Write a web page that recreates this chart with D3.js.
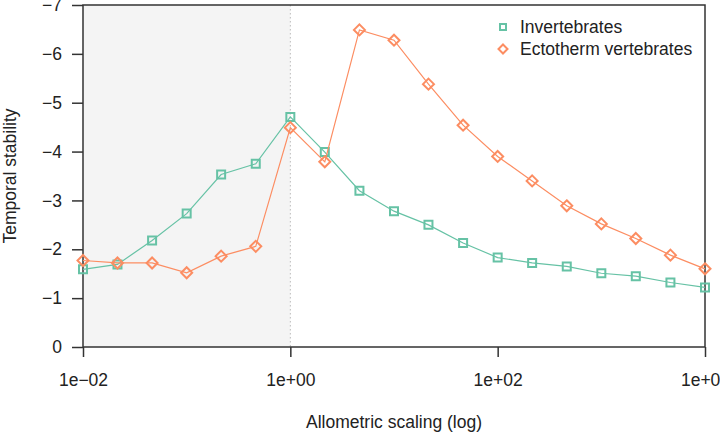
<!DOCTYPE html>
<html>
<head>
<meta charset="utf-8">
<script src="https://cdn.jsdelivr.net/npm/d3@7"></script>
<style>
  body { margin: 0; background: #fff; }
  svg text { font-family: "Liberation Sans", Arial, sans-serif; fill: #222; }
</style>
</head>
<body>
<div id="wrapper"></div>
<script>
const scaling = [0.01, 0.0215, 0.0464, 0.1, 0.215, 0.464, 1, 2.15, 4.64, 10,
  21.5, 46.4, 100, 215, 464, 1000, 2150, 4640, 10000]

const invertebrates = [-1.59, -1.69, -2.18, -2.73, -3.53, -3.75, -4.71, -3.99, -3.20, -2.78,
  -2.50, -2.13, -1.83, -1.72, -1.65, -1.51, -1.45, -1.32, -1.22]

const ectotherms = [-1.77, -1.72, -1.72, -1.52, -1.86, -2.06, -4.49, -3.79, -6.49, -6.28,
  -5.38, -4.54, -3.90, -3.40, -2.89, -2.52, -2.22, -1.88, -1.60]

const xTicks = [0.01, 1, 100, 10000]
const xTickLabels = ["1e\u221202", "1e+00", "1e+02", "1e+04"]
const yTicks = [0, -1, -2, -3, -4, -5, -6, -7]

const series = [
  {name: "Invertebrates", values: invertebrates, color: "#66c2a5", shape: "square"},
  {name: "Ectotherm vertebrates", values: ectotherms, color: "#fc8d62", shape: "diamond"}
]

const fontSize = 17.5

const dimensions = {
  width: 720,
  height: 432,
  margin: {top: 5, right: 15, bottom: 85, left: 83}
}
dimensions.boundedWidth = dimensions.width - dimensions.margin.left - dimensions.margin.right
dimensions.boundedHeight = dimensions.height - dimensions.margin.top - dimensions.margin.bottom

const wrapper = d3.select("#wrapper")
  .append("svg")
    .attr("width", dimensions.width)
    .attr("height", dimensions.height)

const bounds = wrapper.append("g")
  .attr("transform", `translate(${dimensions.margin.left}, ${dimensions.margin.top})`)

const xScale = d3.scaleLog()
  .domain([0.01, 10000])
  .range([0, dimensions.boundedWidth])

const yScale = d3.scaleLinear()
  .domain([0, -7])
  .range([dimensions.boundedHeight, 0])

// shaded region below 1e+00
bounds.append("rect")
  .attr("x", xScale(0.01))
  .attr("y", 0)
  .attr("width", xScale(1) - xScale(0.01))
  .attr("height", dimensions.boundedHeight)
  .attr("fill", "#f4f4f4")

bounds.append("line")
  .attr("x1", xScale(1)).attr("x2", xScale(1))
  .attr("y1", 0).attr("y2", dimensions.boundedHeight)
  .attr("stroke", "#bbb")
  .attr("stroke-width", 1)
  .attr("stroke-dasharray", "1.5,2.5")

// axes
const xAxisGenerator = d3.axisBottom(xScale)
  .tickValues(xTicks)
  .tickFormat((d, i) => xTickLabels[i])
  .tickSize(10)
  .tickPadding(17)

const xAxis = bounds.append("g")
  .attr("transform", `translate(0, ${dimensions.boundedHeight})`)
  .call(xAxisGenerator)

const yAxisGenerator = d3.axisLeft(yScale)
  .tickValues(yTicks)
  .tickFormat(d => d3.format("d")(d).replace("-", "\u2212"))
  .tickSize(11)
  .tickPadding(10)

const yAxis = bounds.append("g")
  .call(yAxisGenerator)

;[xAxis, yAxis].forEach(axis => {
  axis.select(".domain").remove()
  axis.selectAll(".tick line").attr("stroke", "#333").attr("stroke-width", 1.5)
  axis.selectAll(".tick text")
    .attr("font-size", fontSize)
    .attr("fill", "#222")
    .style("font-family", "'Liberation Sans', Arial, sans-serif")
})

// box
bounds.append("rect")
  .attr("width", dimensions.boundedWidth)
  .attr("height", dimensions.boundedHeight)
  .attr("fill", "none")
  .attr("stroke", "#333")
  .attr("stroke-width", 1.5)

// axis titles
bounds.append("text")
  .attr("x", dimensions.boundedWidth / 2)
  .attr("y", dimensions.boundedHeight + 81)
  .attr("text-anchor", "middle")
  .attr("font-size", fontSize)
  .text("Allometric scaling (log)")

bounds.append("text")
  .attr("transform", `translate(${-67}, ${dimensions.boundedHeight / 2}) rotate(-90)`)
  .attr("text-anchor", "middle")
  .attr("font-size", fontSize)
  .text("Temporal stability")

// lines and markers
const lineGenerator = d3.line()
  .x((d, i) => xScale(scaling[i]))
  .y(d => yScale(d))

function markerPath(shape, size) {
  if (shape === "diamond") {
    return `M0,${-size}L${size},0L0,${size}L${-size},0Z`
  }
  return `M${-size},${-size}H${size}V${size}H${-size}Z`
}

series.forEach(s => {
  const g = bounds.append("g")

  g.append("path")
    .attr("d", lineGenerator(s.values))
    .attr("fill", "none")
    .attr("stroke", s.color)
    .attr("stroke-width", 1.2)

  g.selectAll("path.marker")
    .data(s.values)
    .enter().append("path")
      .attr("class", "marker")
      .attr("transform", (d, i) => `translate(${xScale(scaling[i])}, ${yScale(d)})`)
      .attr("d", s.shape === "diamond" ? markerPath("diamond", 5.5) : markerPath("square", 4))
      .attr("fill", "none")
      .attr("stroke", s.color)
      .attr("stroke-width", 2)
})

// legend
const legend = bounds.append("g")
  .attr("transform", `translate(${420}, ${22})`)

series.forEach((s, i) => {
  const row = legend.append("g")
    .attr("transform", `translate(0, ${i * 22})`)
  row.append("path")
    .attr("d", s.shape === "diamond" ? markerPath("diamond", 4.5) : markerPath("square", 3))
    .attr("fill", "none")
    .attr("stroke", s.color)
    .attr("stroke-width", 2)
  row.append("text")
    .attr("x", 17)
    .attr("dy", "0.35em")
    .attr("font-size", fontSize)
    .text(s.name)
})
</script>
</body>
</html>
